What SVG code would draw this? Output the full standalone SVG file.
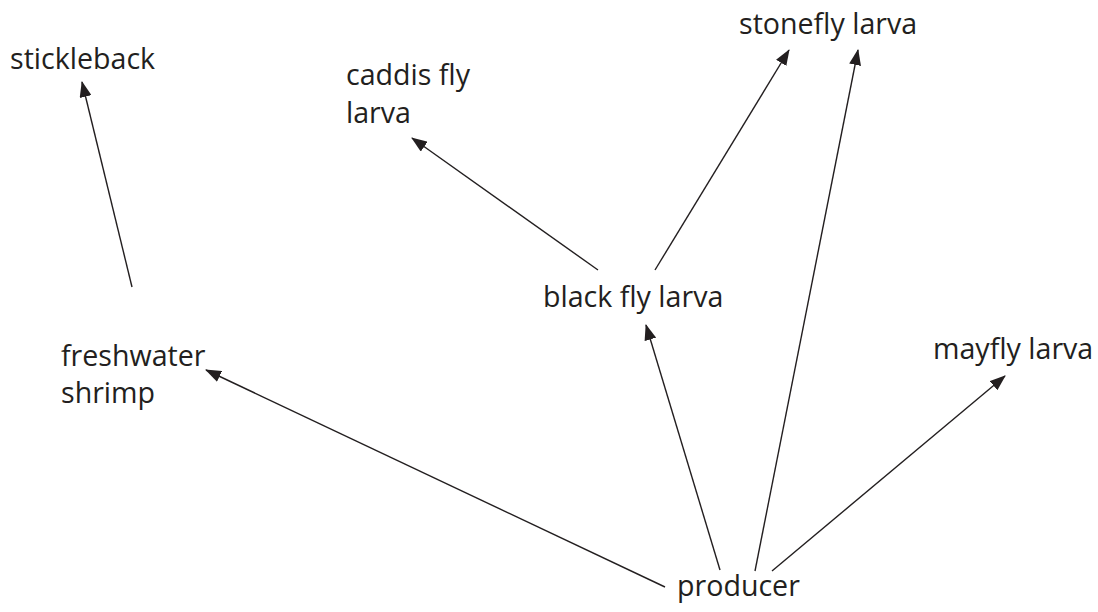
<svg xmlns="http://www.w3.org/2000/svg" width="1098" height="612" viewBox="0 0 1098 612">
<style>
text{font-family:"Open Sans","Noto Sans","Liberation Sans",sans-serif;font-size:28.6px;fill:#231f20}
.c line{stroke:#231f20;stroke-width:1.4;marker-end:url(#ah)}
</style>
<defs>
<marker id="ah" markerUnits="userSpaceOnUse" markerWidth="16" markerHeight="12" refX="15" refY="6" orient="auto" viewBox="0 0 16 12">
<path d="M0,0 L16,6 L0,12 Z" fill="#231f20"/>
</marker>
</defs>
<rect width="1098" height="612" fill="#fff"/>
<g class="c" id="connectors">
<line x1="132" y1="287" x2="82" y2="82"/>
<line x1="598" y1="270" x2="412" y2="138"/>
<line x1="655" y1="270" x2="789" y2="50"/>
<line x1="755" y1="571" x2="858" y2="50"/>
<line x1="720" y1="570" x2="646" y2="325"/>
<line x1="665" y1="587" x2="206" y2="370"/>
<line x1="772" y1="571" x2="1005" y2="376"/>
</g>
<g id="stickleback"><text x="10" y="69">stickleback</text></g>
<g id="caddis"><text x="346" y="85">caddis fly</text><text x="346" y="123">larva</text></g>
<g id="stonefly"><text x="739" y="34">stonefly larva</text></g>
<g id="blackfly"><text x="543" y="307">black fly larva</text></g>
<g id="shrimp"><text x="61" y="366">freshwater</text><text x="61" y="403">shrimp</text></g>
<g id="mayfly"><text x="933" y="359">mayfly larva</text></g>
<g id="producer"><text x="677" y="596">producer</text></g>
</svg>
